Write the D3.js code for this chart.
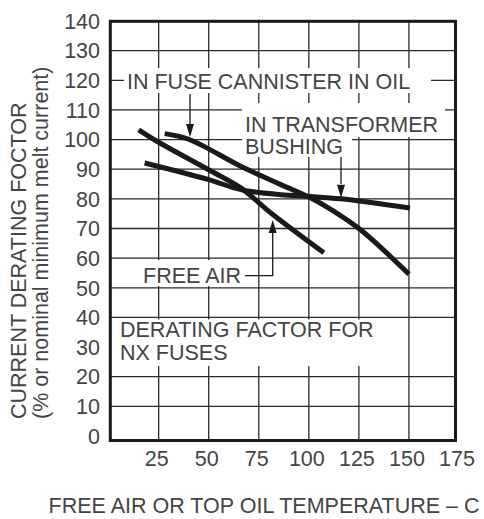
<!DOCTYPE html>
<html>
<head>
<meta charset="utf-8">
<script src="https://cdn.jsdelivr.net/npm/d3@7"></script>
<style>
  body { margin: 0; background: #fff; }
  text { font-family: "Liberation Sans", Arial, sans-serif; fill: #444; }
</style>
</head>
<body>
<script>
// data (temperature C, derating %)
var freeAirTemp = [15, 25, 50, 66, 82, 107.5];
var freeAirVal = [103.3, 99.1, 89.8, 83.7, 74.7, 61.8];

var cannisterTemp = [28, 40, 66, 86, 101, 113, 126, 150];
var cannisterVal = [102.0, 100.1, 91, 84.8, 80.3, 75.6, 69.5, 54.6];

var bushingTemp = [18, 50, 66, 86, 101, 116, 150.5];
var bushingVal = [92.1, 86.5, 83.1, 81.4, 80.8, 80, 76.9];

var xTicks = [25, 50, 75, 100, 125, 150, 175];
var yTicks = [0, 10, 20, 30, 40, 50, 60, 70, 80, 90, 100, 110, 120, 130, 140];
var xGrid = [25, 50, 75, 100, 125, 150];
var yGrid = [10, 20, 40, 50, 60, 70, 80, 90, 100, 110, 120, 130];

var svgWidth = 484;
var svgHeight = 519;

var svg = d3.select("body")
  .append("svg")
  .attr("width", svgWidth)
  .attr("height", svgHeight);

var x = d3.scaleLinear().domain([0, 175]).range([108.6, 459]);
var y = d3.scaleLinear().domain([0, 140]).range([436, 21]);

// frame edges
var frameL = 110.3, frameR = 455.5, frameT = 21.3, frameB = 440.5;

var grid = svg.append("g");
grid.selectAll(".vg")
  .data(xGrid)
  .enter()
  .append("line")
  .attr("x1", d => x(d)).attr("x2", d => x(d))
  .attr("y1", frameT).attr("y2", frameB)
  .attr("stroke", "#2a2a2a")
  .attr("stroke-width", 1.3);

grid.selectAll(".hg")
  .data(yGrid)
  .enter()
  .append("line")
  .attr("x1", frameL).attr("x2", frameR)
  .attr("y1", d => y(d)).attr("y2", d => y(d))
  .attr("stroke", "#2a2a2a")
  .attr("stroke-width", 1.3);

// white boxes behind the labels
var boxes = [
  [124, 68, 431, 93],
  [242, 103, 445, 137],
  [242, 137, 352, 157],
  [140, 260, 243, 286],
  [112, 319.5, 385, 366]
];
svg.selectAll(".box")
  .data(boxes)
  .enter()
  .append("rect")
  .attr("x", d => d[0]).attr("y", d => d[1])
  .attr("width", d => d[2] - d[0]).attr("height", d => d[3] - d[1])
  .attr("fill", "#fff");

// frame
svg.append("rect")
  .attr("x", frameL).attr("y", frameT)
  .attr("width", frameR - frameL).attr("height", frameB - frameT)
  .attr("fill", "none")
  .attr("stroke", "#1a1a1a")
  .attr("stroke-width", 3);

// curves
var line = d3.line()
  .x(d => x(d[0]))
  .y(d => y(d[1]))
  .curve(d3.curveCatmullRom.alpha(0.5));

[[freeAirTemp, freeAirVal], [cannisterTemp, cannisterVal], [bushingTemp, bushingVal]]
  .forEach(function(s) {
    svg.append("path")
      .datum(d3.zip(s[0], s[1]))
      .attr("d", line)
      .attr("fill", "none")
      .attr("stroke", "#1a1a1a")
      .attr("stroke-width", 5);
  });

// tick labels
svg.selectAll(".xt")
  .data(xTicks)
  .enter()
  .append("text")
  .attr("x", d => x(d) - 2)
  .attr("y", 466)
  .attr("text-anchor", "middle")
  .style("font-size", "21.5px")
  .text(d => d);

svg.selectAll(".yt")
  .data(yTicks)
  .enter()
  .append("text")
  .attr("x", 100)
  .attr("y", d => y(d))
  .attr("dy", "0.36em")
  .attr("text-anchor", "end")
  .style("font-size", "21.5px")
  .text(d => d);

// axis titles
svg.append("text")
  .attr("x", 264)
  .attr("y", 513)
  .attr("text-anchor", "middle")
  .style("font-size", "21.5px")
  .text("FREE AIR OR TOP OIL TEMPERATURE \u2013 C");

svg.append("text")
  .attr("transform", "translate(25.5,419) rotate(-90)")
  .style("font-size", "21.5px")
  .text("CURRENT DERATING FOCTOR");

svg.append("text")
  .attr("transform", "translate(48,419) rotate(-90)")
  .style("font-size", "21.5px")
  .text("(% or nominal minimum melt current)");

// curve labels
var labels = [
  ["IN FUSE CANNISTER IN OIL", 127, 88.5],
  ["IN TRANSFORMER", 245, 132],
  ["BUSHING", 245, 154],
  ["FREE AIR", 143, 283],
  ["DERATING FACTOR FOR", 120, 337],
  ["NX FUSES", 120, 360]
];
svg.selectAll(".lbl")
  .data(labels)
  .enter()
  .append("text")
  .attr("x", d => d[1])
  .attr("y", d => d[2])
  .style("font-size", "21.5px")
  .text(d => d[0]);

// leaders and arrow heads
var ink = "#1a1a1a";
function arrow(px, tipY, dir) {
  // dir 1 = pointing down, -1 = pointing up
  svg.append("path")
    .attr("d", `M${px - 4},${tipY - dir * 13} L${px + 4},${tipY - dir * 13} L${px},${tipY} Z`)
    .attr("fill", ink);
}

svg.append("line")
  .attr("x1", 190).attr("x2", 190).attr("y1", 94).attr("y2", 126)
  .attr("stroke", ink).attr("stroke-width", 1.3);
arrow(190, y(100.5) - 1, 1);

svg.append("line")
  .attr("x1", 341).attr("x2", 341).attr("y1", 157).attr("y2", 184)
  .attr("stroke", ink).attr("stroke-width", 1.3);
arrow(341, y(80) - 1, 1);

svg.append("path")
  .attr("d", "M245,275.7 H272.7 V230")
  .attr("fill", "none")
  .attr("stroke", ink).attr("stroke-width", 1.3);
arrow(272.7, 220, -1);
</script>
</body>
</html>
